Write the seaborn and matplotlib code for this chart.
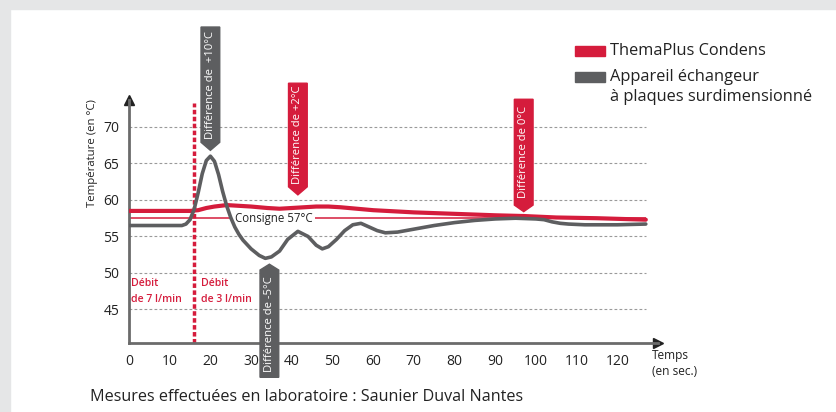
import numpy as np
import pandas as pd
import matplotlib.pyplot as plt
import seaborn as sns
from matplotlib.patches import Polygon, Rectangle

# ---- DATA ----
thema_t = [0, 15, 17, 19, 21, 24, 27, 30, 34, 37, 40, 43, 46, 49, 52, 56, 60,
           70, 80, 90, 97, 105, 115, 127]
thema_v = [58.5, 58.5, 58.6, 58.9, 59.1, 59.3, 59.2, 59.1, 58.9, 58.8, 58.9, 59.0,
           59.1, 59.1, 59.0, 58.8, 58.6, 58.3, 58.1, 57.9, 57.8, 57.6, 57.5, 57.3]

plaques_t = [0, 13, 14, 15, 16, 17, 18, 19, 20, 21, 22, 23, 24, 25, 26, 27, 28, 30,
             32, 33.5, 35, 37, 39, 41.5, 44, 46, 47.5, 49, 51, 53, 55, 57, 59, 61,
             63, 66, 70, 75, 80, 85, 90, 95, 100, 102, 104, 106, 108, 112, 120, 127]
plaques_v = [56.5, 56.5, 56.7, 57.3, 58.7, 61.0, 63.6, 65.4, 66.0, 65.3, 63.5, 61.2,
             59.2, 57.6, 56.3, 55.3, 54.5, 53.3, 52.4, 52.0, 52.2, 53.0, 54.6, 55.7,
             55.0, 53.8, 53.3, 53.6, 54.6, 55.8, 56.6, 56.8, 56.3, 55.8, 55.5, 55.6,
             56.0, 56.5, 56.9, 57.2, 57.4, 57.5, 57.4, 57.3, 57.0, 56.8, 56.7, 56.6,
             56.6, 56.7]

series_names = ['ThemaPlus Condens', 'Appareil échangeur\nà plaques surdimensionné']
consigne = 57.5
debit_change = 16
x_ticks = list(range(0, 130, 10))
y_ticks = [45, 50, 55, 60, 65, 70]

# callouts: (x, top, body end, tip, colour key, text)
callouts = [
    (20, 83.7, 67.9, 66.8, 'gray', 'Différence de  +10°C'),
    (41.5, 76.0, 61.8, 60.7, 'red', 'Différence de +2°C'),
    (97, 73.8, 59.3, 58.4, 'red', 'Différence de 0°C'),
    (34.5, 35.7, 50.4, 51.2, 'gray', 'Différence de -5°C'),
]

RED = '#d51c3c'
GRAY = '#5d5e60'
TXT = '#222222'
colors = {'red': RED, 'gray': GRAY}

df = pd.concat([
    pd.DataFrame({'t': thema_t, 'v': thema_v, 'serie': series_names[0]}),
    pd.DataFrame({'t': plaques_t, 'v': plaques_v, 'serie': series_names[1]}),
])

sns.set_style('white')
plt.rcParams['font.family'] = ['Open Sans', 'DejaVu Sans']

fig = plt.figure(figsize=(8.36, 4.12), dpi=100)
fig.patch.set_facecolor('white')
# grey frame strips (top + left)
fig.patches.append(Rectangle((0, 1 - 9 / 412), 1, 9 / 412, transform=fig.transFigure,
                             color='#e5e6e7', zorder=0))
fig.patches.append(Rectangle((0, 0), 10 / 836, 1, transform=fig.transFigure,
                             color='#e5e6e7', zorder=0))

ax = fig.add_axes([129 / 836, 69 / 412, 529 / 836, 243 / 412])
ax.set_xlim(0, 130)
ax.set_ylim(40.4, 73.7)

ax.hlines(y_ticks, 0, 127, colors='#9a9a9a', linestyles=(0, (2.5, 2)), lw=0.8, zorder=1)
ax.hlines(consigne, 0, 127, colors=RED, lw=1.1, zorder=1)
ax.text(35.5, consigne, 'Consigne 57°C', ha='center', va='center', fontsize=8.3,
        color=TXT, zorder=2,
        bbox=dict(facecolor='white', edgecolor='none', pad=2))
ax.vlines(debit_change, 40.4, 73.3, colors=RED, linestyles=(0, (1.3, 0.7)), lw=2.5,
          zorder=2)

sns.lineplot(data=df, x='t', y='v', hue='serie', palette=[RED, GRAY], sort=False,
             estimator=None, legend=False, ax=ax, zorder=3)
for line, lw in zip(ax.get_lines(), [3.0, 2.6]):
    line.set_linewidth(lw)

for xc, top, body, tip, ck, txt in callouts:
    w = 2.3
    pts = [(xc - w, top), (xc + w, top), (xc + w, body), (xc, tip), (xc - w, body)]
    ax.add_patch(Polygon(pts, closed=True, color=colors[ck], clip_on=False, zorder=5))
    ax.text(xc, (top + body) / 2, txt, rotation=90, ha='center', va='center',
            color='white', fontsize=8.1, zorder=6, clip_on=False)

ax.text(0.6, 49.3, 'Débit\nde 7 l/min', color=RED, fontsize=7.6, fontweight='semibold',
        ha='left', va='top', linespacing=1.6)
ax.text(17.6, 49.3, 'Débit\nde 3 l/min', color=RED, fontsize=7.6, fontweight='semibold',
        ha='left', va='top', linespacing=1.6)

# axes styling
sns.despine(ax=ax)
for s in ['left', 'bottom']:
    ax.spines[s].set_color('#6b6b6b')
    ax.spines[s].set_linewidth(2)
ax.set_xticks(x_ticks)
ax.set_yticks(y_ticks)
ax.tick_params(axis='x', direction='out', length=4, width=1.2, color='#6b6b6b',
               labelsize=10, labelcolor=TXT, pad=4)
ax.tick_params(axis='y', direction='out', length=5, width=1.2, color='#6b6b6b',
               labelsize=10, labelcolor=TXT, pad=2)
ax.set_xlabel('')
ax.set_ylabel('')
ax.plot(0, 1, '^', transform=ax.transAxes, clip_on=False, ms=7, color=TXT)
ax.plot(1, 0, '>', transform=ax.transAxes, clip_on=False, ms=7, color=TXT)

fig.text(652 / 836, 1 - 349 / 412, 'Temps\n(en sec.)', fontsize=8.6, color=TXT,
         ha='left', va='top', linespacing=1.3)
fig.text(93 / 836, 1 - 153 / 412, 'Température (en °C)', rotation=90, fontsize=8.2,
         color=TXT, ha='center', va='center')

# legend
fig.patches.append(Rectangle((575 / 836, 1 - 56 / 412), 30 / 836, 10 / 412,
                             transform=fig.transFigure, color=RED))
fig.patches.append(Rectangle((575 / 836, 1 - 82 / 412), 30 / 836, 10 / 412,
                             transform=fig.transFigure, color=GRAY))
fig.text(610 / 836, 1 - 51 / 412, series_names[0], fontsize=11.8, color=TXT,
         ha='left', va='center')
fig.text(610 / 836, 1 - 77 / 412, series_names[1].split('\n')[0], fontsize=11.8,
         color=TXT, ha='left', va='center')
fig.text(610 / 836, 1 - 97 / 412, series_names[1].split('\n')[1], fontsize=11.8,
         color=TXT, ha='left', va='center')

fig.text(90 / 836, 1 - 397 / 412, 'Mesures effectuées en laboratoire : Saunier Duval Nantes',
         fontsize=11.6, color=TXT, ha='left', va='center')

fig.savefig('out.png', dpi=100)
